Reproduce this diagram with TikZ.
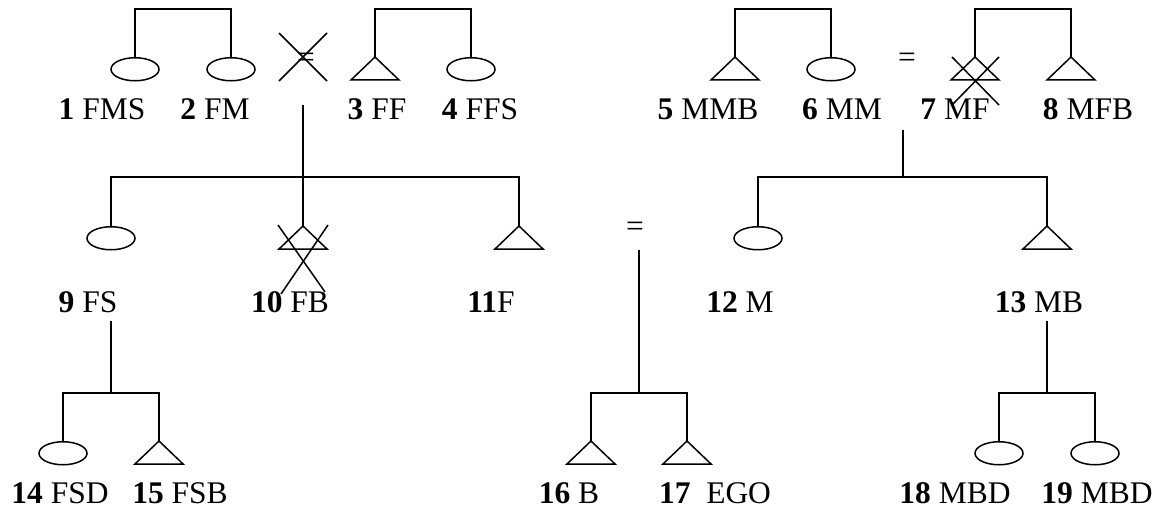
\documentclass[tikz,border=0pt]{standalone}
\usepackage{fontspec}
\setmainfont{Liberation Serif}
\usetikzlibrary{shapes.geometric}
\tikzset{
  ln/.style={line width=1.5pt},
  fem/.style={draw, ellipse, line width=1.5pt, minimum width=48pt, minimum height=23pt, inner sep=0pt, anchor=north},
  pics/male/.style={code={\draw[line width=1.5pt, line join=miter] (0,0) -- (-24,23) -- (24,23) -- cycle;}},
  lab/.style={font=\fontsize{31.5}{33}\selectfont, anchor=base, inner sep=0pt},
  eq/.style={font=\fontsize{31.5}{33}\selectfont, anchor=center, inner sep=0pt},
}
\begin{document}
\begin{tikzpicture}[x=1pt,y=-1pt]
\useasboundingbox (0,0) rectangle (1163,511);

% ---------- generation 1 ----------
\node[fem] (n1) at (135,57) {};
\node[fem] (n2) at (231,57) {};
\coordinate (n3) at (375,57); \pic at (n3) {male};
\node[fem] (n4) at (471,57) {};
\coordinate (n5) at (735,57); \pic at (n5) {male};
\node[fem] (n6) at (831,57) {};
\coordinate (n7) at (975,57); \pic at (n7) {male};
\coordinate (n8) at (1071,57); \pic at (n8) {male};

\draw[ln] (n1.north) -- ++(0,-48) -| (n2.north);
\draw[ln] (n3) -- ++(0,-48) -| (n4.north);
\draw[ln] (n5) -- ++(0,-48) -| (n6.north);
\draw[ln] (n7) -- ++(0,-48) -| (n8);

% marriage marks
\node[eq] (e23) at (306,60) {=};
\draw[ln] (279,33) -- (327,81);
\draw[ln] (327,33) -- (279,81);
\node[eq] (e67) at (907,60) {=};
\draw[ln] (952,57) -- (999,105);
\draw[ln] (999,57) -- (952,105);

\node[lab] (l1) at (102,120) {\textbf{1} FMS};
\node[lab] (l2) at (215,120) {\textbf{2} FM};
\node[lab] (l3) at (377,120) {\textbf{3} FF};
\node[lab] (l4) at (480,120) {\textbf{4} FFS};
\node[lab] (l5) at (708,120) {\textbf{5} MMB};
\node[lab] (l6) at (842,120) {\textbf{6} MM};
\node[lab] (l7) at (955,120) {\textbf{7} MF};
\node[lab] (l8) at (1088,120) {\textbf{8} MFB};

% ---------- generation 2 ----------
\node[fem] (n9) at (111,226) {};
\coordinate (n10) at (303,226); \pic at (n10) {male};
\coordinate (n11) at (519,226); \pic at (n11) {male};
\node[fem] (n12) at (758,226) {};
\coordinate (n13) at (1047,226); \pic at (n13) {male};

\coordinate (c23) at (303,105);
\coordinate (c67) at (903,130);
\draw[ln] (n9.north) -- ++(0,-49) -| (n11);
\draw[ln] (c23) -- (n10);
\draw[ln] (n12.north) -- ++(0,-49) -| (n13);
\draw[ln] (c67) -- (903,177);

\draw[ln] (278,225) -- (325,292);
\draw[ln] (328,225) -- (281,294);

\node[eq] (e1112) at (635,229) {=};

\node[lab] (l9) at (88,312) {\textbf{9} FS};
\node[lab] (l10) at (290,312) {\textbf{10} FB};
\node[lab] (l11) at (491,312) {\textbf{11}F};
\node[lab] (l12) at (740,312) {\textbf{12} M};
\node[lab] (l13) at (1039,312) {\textbf{13} MB};

% ---------- generation 3 ----------
\node[fem] (n14) at (63,441) {};
\coordinate (n15) at (159,441); \pic at (n15) {male};
\coordinate (n16) at (591,441); \pic at (n16) {male};
\coordinate (n17) at (687,441); \pic at (n17) {male};
\node[fem] (n18) at (999,441) {};
\node[fem] (n19) at (1095,441) {};

\coordinate (c9) at (111,321);
\coordinate (c1112) at (639,250);
\coordinate (c13) at (1047,321);
\draw[ln] (n14.north) -- ++(0,-48) -| (n15);
\draw[ln] (c9) -- (111,393);
\draw[ln] (n16) -- ++(0,-48) -| (n17);
\draw[ln] (c1112) -- (639,393);
\draw[ln] (n18.north) -- ++(0,-48) -| (n19.north);
\draw[ln] (c13) -- (1047,393);

\node[lab] (l14) at (60,503) {\textbf{14} FSD};
\node[lab] (l15) at (180,503) {\textbf{15} FSB};
\node[lab] (l16) at (569,503) {\textbf{16} B};
\node[lab] (l17) at (715,503) {\textbf{17}\ \ EGO};
\node[lab] (l18) at (955,503) {\textbf{18} MBD};
\node[lab] (l19) at (1097,503) {\textbf{19} MBD};
\end{tikzpicture}
\end{document}
